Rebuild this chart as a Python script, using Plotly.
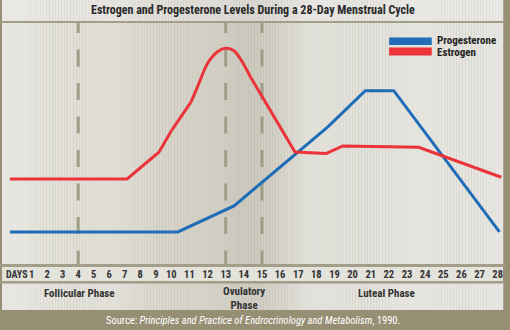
import plotly.graph_objects as go

# ---- data -------------------------------------------------------------
days = list(range(1, 29))
day_labels = [str(d) for d in days]

# relative hormone level (0 = bottom of panel, 100 = top)
prog_day = [-0.4, 10.36, 13.46, 18.65, 20.7, 22.27, 28.1]
prog_level = [13.3, 13.3, 24.1, 57.0, 71.9, 71.9, 13.3]

estr_day = [-0.4, 7.15, 9.2, 11.09, 11.45, 12.0, 12.55, 13.0, 13.46, 13.91, 14.36,
            16.82, 18.55, 19.46, 23.65, 28.2]
estr_level = [35.3, 35.3, 46.4, 67.3, 73.6, 83.3, 88.1, 89.5, 88.5, 83.9, 77.7,
              46.5, 45.9, 49.0, 48.4, 36.0]

# the LH-driven surge is drawn as a smooth curve between these two days
SURGE_FROM, SURGE_TO = 11.09, 14.36

phase_bounds = [4, 13, 15]

# ---- geometry helpers ---------------------------------------------------
W, H = 510, 330
TOP, BOTTOM = 23, 264          # plotting panel in pixels

# the day scale is drawn in two linear pieces: single-digit days are set
# a little tighter than the two-digit ones
SPLIT_DAY, SPLIT_PX = 10, 173
STEP_A, STEP_B = 15.67, 18.31
RANGE_A = [SPLIT_DAY - SPLIT_PX / STEP_A, SPLIT_DAY]
RANGE_B = [SPLIT_DAY, SPLIT_DAY + (W - SPLIT_PX) / STEP_B]


def px(q):
    return q / W


def py(p):
    return (BOTTOM - p) / (BOTTOM - TOP)


FONT = "Liberation Sans Narrow, Arial Narrow, Roboto Condensed, Liberation Sans, sans-serif"
OLIVE = "#978f74"
RULE = "#a29e89"
BLUE = "#1f6db6"
RED = "#ec3339"

# horizontal background shading: light at the edges, darker near ovulation
stops = [(0, (231, 230, 224)), (120, (222, 220, 212)), (200, (211, 208, 198)),
         (240, (204, 201, 190)), (265, (206, 203, 193)), (310, (224, 223, 216)),
         (510, (231, 230, 226))]


def shade(x, lift=0.0):
    for (x0, c0), (x1, c1) in zip(stops[:-1], stops[1:]):
        if x0 <= x <= x1:
            t = (x - x0) / (x1 - x0)
            c = [a + (b - a) * t for a, b in zip(c0, c1)]
            c = [v + (236 - v) * lift for v in c]
            return "rgb(%d,%d,%d)" % tuple(round(v) for v in c)
    return "rgb(231,230,226)"


shapes = []


def band(y0, y1, lift=0.0, step=3):
    x = 2
    while x < 508:
        x1 = min(x + step, 508)
        shapes.append(dict(type="rect", xref="paper", yref="paper",
                           x0=px(x), x1=px(x1) + 0.0005, y0=py(y1), y1=py(y0),
                           fillcolor=shade(x + step / 2, lift), line=dict(width=0),
                           layer="below"))
        x = x1


def rect(x0, x1, y0, y1, color):
    shapes.append(dict(type="rect", xref="paper", yref="paper",
                       x0=px(x0), x1=px(x1), y0=py(y1), y1=py(y0),
                       fillcolor=color, line=dict(width=0), layer="below"))


# panel shading
band(TOP, BOTTOM)

# dashed phase boundaries
for d in phase_bounds:
    shapes.append(dict(type="line", xref="x" if d <= SPLIT_DAY else "x2", yref="paper",
                       x0=d, x1=d, y0=py(16), y1=py(BOTTOM),
                       line=dict(color="#a09d88", width=3, dash="17px,16.5px"),
                       layer="below"))

# title strip and rules
band(0, 21, lift=0.45)
rect(0, 510, 21, 23, RULE)
rect(0, 510, 264, 267, RULE)
rect(2, 508, 267, 281, "#e3e2db")
rect(0, 510, 281, 283.5, RULE)
band(283.5, 310, lift=0.1)

# legend swatches
rect(393, 436, 37.5, 45, BLUE)
rect(393, 436, 47.5, 55.5, RED)

# estrogen: straight segments outside the surge, a smooth curve across it
lin_x, lin_y, cur_x, cur_y = [], [], [], []
for d, v in zip(estr_day, estr_level):
    if d <= SURGE_FROM or d >= SURGE_TO:
        if d == SURGE_TO:
            lin_x.append(None)
            lin_y.append(None)
        lin_x.append(d)
        lin_y.append(v)
    if SURGE_FROM <= d <= SURGE_TO:
        cur_x.append(d)
        cur_y.append(v)

fig = go.Figure()
for xa in ("x", "x2"):
    fig.add_trace(go.Scatter(x=prog_day, y=prog_level, mode="lines", name="Progesterone",
                             line=dict(color=BLUE, width=3), showlegend=False,
                             hoverinfo="skip", xaxis=xa, yaxis="y"))
    fig.add_trace(go.Scatter(x=lin_x, y=lin_y, mode="lines", name="Estrogen",
                             line=dict(color=RED, width=3), showlegend=False,
                             connectgaps=False, hoverinfo="skip", xaxis=xa, yaxis="y"))
    fig.add_trace(go.Scatter(x=cur_x, y=cur_y, mode="lines", name="Estrogen",
                             line=dict(color=RED, width=3, shape="spline", smoothing=0.8),
                             showlegend=False, hoverinfo="skip", xaxis=xa, yaxis="y"))

annotations = [
    dict(text="Estrogen and Progesterone Levels During a 28-Day Menstrual Cycle",
         x=px(256), y=py(10.5), font=dict(size=12, color="#2a2a2a", weight="bold")),
    dict(text="Progesterone", x=px(439), y=py(40.6), xanchor="left",
         font=dict(size=11, color="#222222", weight="bold")),
    dict(text="Estrogen", x=px(439), y=py(52.3), xanchor="left",
         font=dict(size=11, color="#222222", weight="bold")),
    dict(text="DAYS", x=px(4.5), y=py(274), xanchor="left",
         font=dict(size=10, color="#333333", weight="bold")),
    dict(text="Follicular Phase", x=px(80), y=py(293.5),
         font=dict(size=11, color="#333333", weight="bold")),
    dict(text="Ovulatory<br>Phase", x=px(246.5), y=py(298.3),
         font=dict(size=11, color="#333333", weight="bold")),
    dict(text="Luteal Phase", x=px(390), y=py(293.5),
         font=dict(size=11, color="#333333", weight="bold")),
    dict(text="Source: <i>Principles and Practice of Endrocrinology and Metabolism</i>, 1990.",
         x=px(255), y=py(320.5), font=dict(size=10.5, color="#ffffff")),
]
for a in annotations:
    a.setdefault("xanchor", "center")
    a.update(xref="paper", yref="paper", yanchor="middle", showarrow=False)
    a["font"]["family"] = FONT

tick_font = dict(family=FONT, size=10.5, color="#333333", weight="bold")
axis_common = dict(showgrid=False, zeroline=False, showline=False, ticks="",
                   tickfont=tick_font, fixedrange=True, ticklabelstandoff=2)

fig.update_layout(
    width=W, height=H, autosize=False,
    margin=dict(l=0, r=0, t=TOP, b=H - BOTTOM, pad=0),
    paper_bgcolor=OLIVE, plot_bgcolor="rgba(0,0,0,0)",
    shapes=shapes, annotations=annotations, showlegend=False,
    xaxis=dict(domain=[0, SPLIT_PX / W], range=RANGE_A,
               tickvals=[d for d in days if d <= SPLIT_DAY],
               ticktext=[t for d, t in zip(days, day_labels) if d <= SPLIT_DAY],
               **axis_common),
    xaxis2=dict(domain=[SPLIT_PX / W, 1], range=RANGE_B, anchor="y",
                tickvals=[d for d in days if d > SPLIT_DAY],
                ticktext=[t for d, t in zip(days, day_labels) if d > SPLIT_DAY],
                **axis_common),
    yaxis=dict(range=[0, 100], visible=False, fixedrange=True),
)

fig.write_html("out.html", config=dict(displayModeBar=False))
